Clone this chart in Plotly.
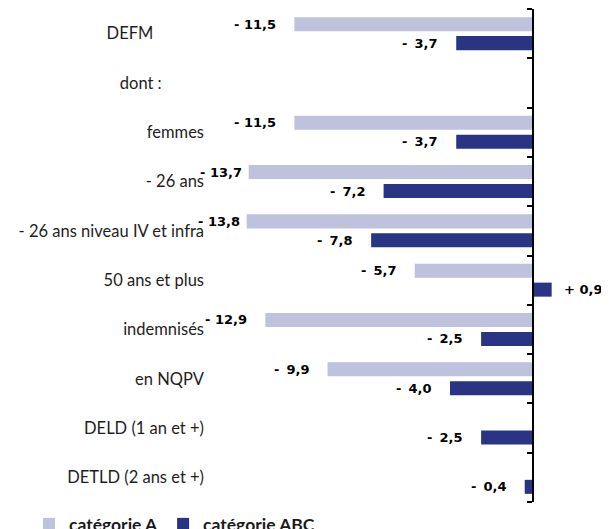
import plotly.graph_objects as go

categories = ["DEFM", "dont :", "femmes", "- 26 ans", "- 26 ans niveau IV et infra",
              "50 ans et plus", "indemnisés", "en NQPV", "DELD (1 an et +)", "DETLD (2 ans et +)"]
trailing_pad = [12, 10, 0, 0, 0, 0, 0, 0, 0, 0]
cat_a = [-11.5, None, -11.5, -13.7, -13.8, -5.7, -12.9, -9.9, None, None]
cat_abc = [-3.7, None, -3.7, -7.2, -7.8, 0.9, -2.5, -4.0, -2.5, -0.4]
series_names = ["catégorie A", "catégorie ABC"]
colors = ["#BEC2DC", "#293584"]

# page offset: the figure sits 8px from the window's top-left corner (body margin)
OFF = 8
x_min, x_max = -15.566, 3.229
W, H = 609 - OFF, 529 - OFF
L, R, T = 210 - OFF, W - (600 - OFF), 1
B = H - (502 - OFF)


def fmt(v):
    sign = "+ " if v > 0 else "- "
    pad = "\u2009" if (v < 0 and abs(v) < 10) else ""
    return sign + pad + f"{abs(v):.1f}".replace(".", ",")


fig = go.Figure()
for name, vals, col in zip(series_names, [cat_a, cat_abc], colors):
    fig.add_trace(go.Bar(
        y=categories, x=vals, name=name, orientation="h",
        marker=dict(color=col, line=dict(width=0)),
        hoverinfo="skip",
    ))

# invisible trace to hold the zero axis with ticks
fig.add_trace(go.Scatter(x=[None], y=[None], yaxis="y2", showlegend=False,
                         hoverinfo="skip", mode="markers"))

annotations = []
for vals, ysh in [(cat_a, 9.5), (cat_abc, -9.5)]:
    for c, v in zip(categories, vals):
        if v is None:
            continue
        if v < 0:
            xs = -5 if v < -13.2 else -16
        else:
            xs = 10
        annotations.append(dict(
            x=v, y=c, xref="x", yref="y", text=fmt(v), showarrow=False,
            xanchor="right" if v < 0 else "left",
            xshift=xs, yshift=ysh,
            font=dict(family="DejaVu Sans", size=13, color="#000000", weight="bold"),
        ))

ticktext = [c + "\u00a0" * p for c, p in zip(categories, trailing_pad)]
plot_h = H - T - B

fig.update_layout(
    width=W, height=H,
    margin=dict(l=L, r=R, t=T, b=B, autoexpand=False),
    paper_bgcolor="white", plot_bgcolor="white",
    barmode="group", bargap=0.23, bargroupgap=0.26,
    xaxis=dict(range=[x_min, x_max], showgrid=False, zeroline=False,
               showticklabels=False, showline=False, ticks=""),
    yaxis=dict(type="category", categoryorder="array", categoryarray=categories,
               autorange="reversed", tickmode="array", tickvals=categories,
               ticktext=ticktext, showgrid=False, zeroline=False, showline=False,
               ticks="", ticklabelstandoff=5,
               tickfont=dict(family="Lato", size=16.5, color="#1e1e1e")),
    yaxis2=dict(overlaying="y", anchor="free", side="left",
                position=(0 - x_min) / (x_max - x_min),
                range=[len(categories) - 0.5, -0.5],
                tickmode="array", tickvals=[i - 0.5 for i in range(len(categories) + 1)],
                showticklabels=False, showgrid=False, zeroline=False,
                showline=True, linecolor="#000000", linewidth=2,
                ticks="outside", ticklen=5, tickwidth=2, tickcolor="#000000"),
    legend=dict(orientation="h", x=(29 - OFF - L) / (W - L - R), xanchor="left",
                y=-(524 - 502) / plot_h, yanchor="middle",
                font=dict(family="Lato", size=17.5, color="#1a1a1a", weight="bold"),
                bgcolor="rgba(0,0,0,0)", traceorder="normal"),
    annotations=annotations,
    showlegend=True,
)

fig.write_html("out.html")
